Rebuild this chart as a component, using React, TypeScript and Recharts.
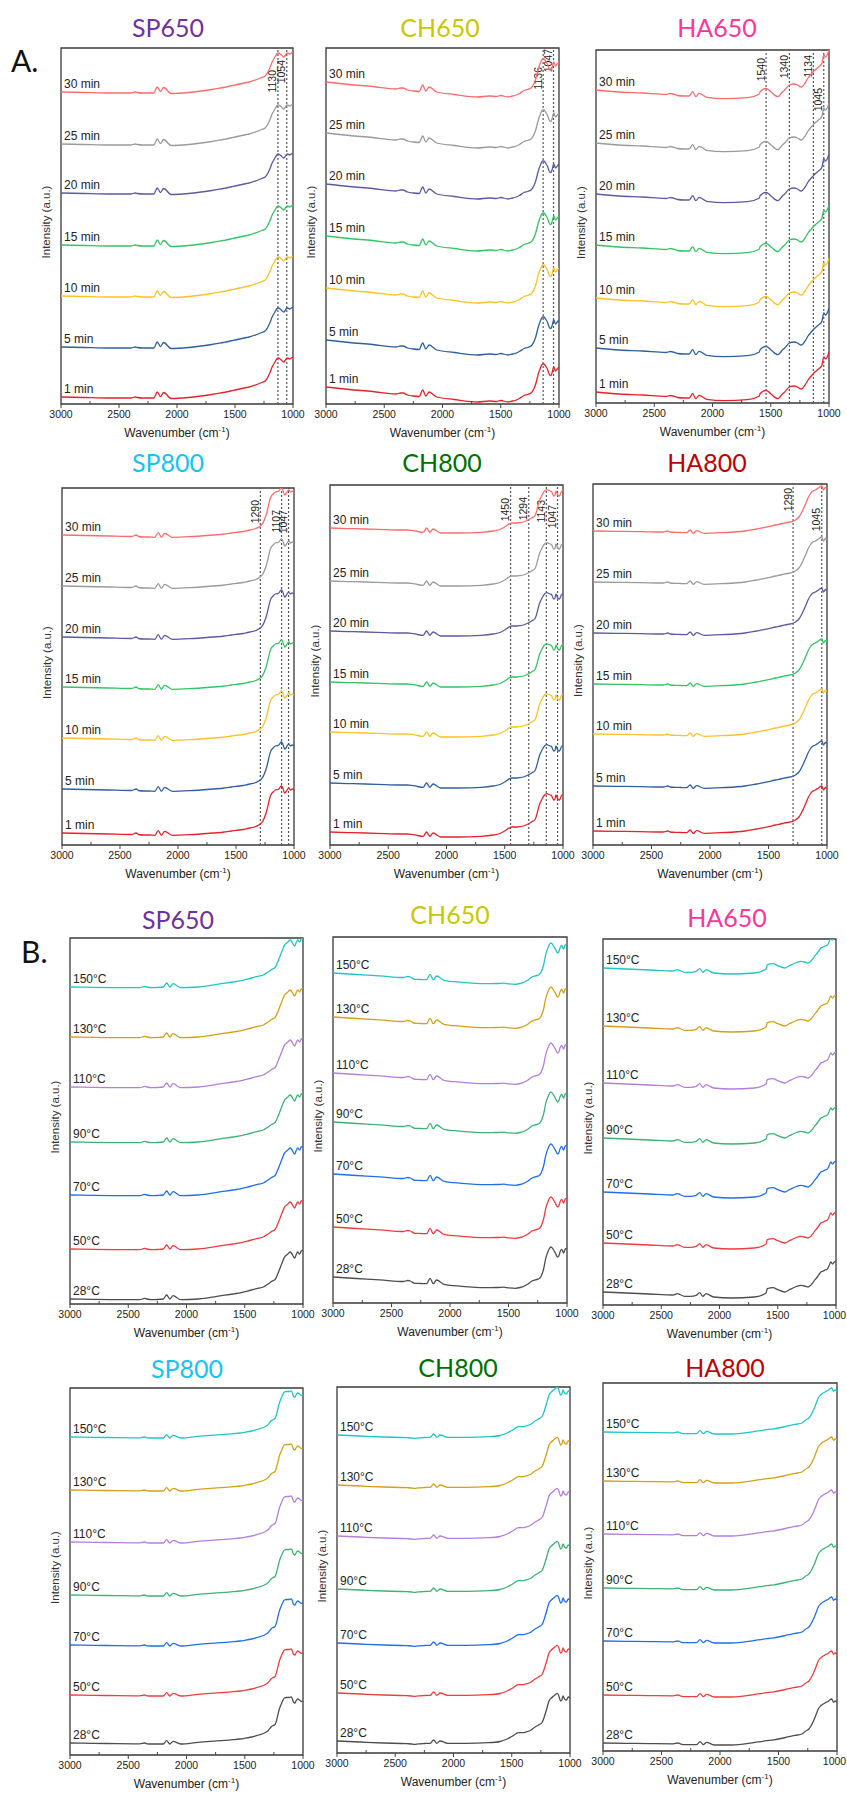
import React from "react";
import {
  LineChart,
  Line,
  XAxis,
  YAxis,
  ReferenceLine,
  ReferenceArea,
  LabelList,
} from "recharts";

// wavenumber grid (cm-1), read from left (3000) to right (1000)
const WAVENUMBERS = [
  3000, 2800, 2600, 2400, 2360, 2340, 2300, 2250, 2200, 2170, 2143, 2115,
  2050, 1900, 1700, 1600, 1590, 1540, 1500, 1440, 1400, 1380, 1340, 1300,
  1270, 1240, 1200, 1180, 1160, 1140, 1130, 1110, 1100, 1080, 1070, 1060,
  1045, 1030, 1015, 1000,
];

const X_TICKS = [3000, 2750, 2500, 2250, 2000, 1750, 1500, 1250, 1000];

const TIME_LABELS = ["1 min", "5 min", "10 min", "15 min", "20 min", "25 min", "30 min"];
const TEMP_LABELS = ["28°C", "50°C", "70°C", "90°C", "110°C", "130°C", "150°C"];

// spectrum shape of each sample (a.u. above the 3000 cm-1 end)
const SHAPE_A_SP650 = [0, -0.5, -1, -1, 0, -0.5, -1, -1, -1, 5, 0.5, 4.5, -1.5, -0.5, 2.5, 4.5, 4.7, 6, 7, 8.5, 9.5, 10, 11.5, 13, 14.5, 16, 24, 30, 34, 38, 39, 38, 37, 35, 36, 38, 39, 38, 39, 40];
const SHAPE_A_CH650 = [0, -2.5, -4.5, -7, -6, -6, -8, -9, -9.5, -3, -9, -5, -10, -12.5, -15, -14, -14, -14.5, -13.5, -15, -14, -13.5, -11.5, -8.5, -7.5, -6, 3, 12, 19, 23, 23, 20, 18, 12, 11.5, 14, 20, 16, 18, 20];
const SHAPE_A_HA650 = [0, -2, -3, -4.5, -3.5, -4, -5.5, -6, -6, -1.7, -6.7, -3.3, -7.3, -8.7, -7.7, -4.3, -1.5, 1.7, -1.7, -6.7, -2, 0, 5, 6, 5, 3, 8, 12, 15, 17.5, 19, 21, 22, 24, 25, 27, 35, 33, 35, 40];
const SHAPE_A_SP800 = [0, -0.5, -1, -1.5, 0, -1.5, -2, -2, -2.3, 2.3, -2.3, 1.7, -2.3, -1.7, 0, 1, 1.2, 2, 2.7, 3.5, 4.5, 5, 6, 8.3, 11.7, 20, 38, 41, 43, 43.5, 44, 47, 46, 40, 41, 43, 45, 43, 44, 43];
const SHAPE_A_CH800 = [0, -0.7, -1.3, -2, -2, -2, -2.3, -3.5, -4.3, 0, -4.3, -1, -5, -5, -4.3, -3, -2.8, -1.5, 1, 5, 5, 5.3, 6, 8, 10, 12.5, 28, 33, 36.7, 38.3, 38, 37, 36.7, 32, 32.5, 37, 33, 32, 36, 37.7];
const SHAPE_A_HA800 = [0, -0.3, -0.6, -1, 0, -1, -1.3, -1.5, -1.7, 1, -2.3, 0.3, -2.3, -1.7, 0, 2, 2.2, 3.3, 4.3, 6, 7, 7.5, 8.5, 9.3, 11, 14, 22.7, 28, 33.5, 37.5, 39, 40.5, 41, 42.5, 43.3, 44.3, 45, 41, 43.5, 42.7];
const SHAPE_B_SP650 = [0, -0.3, -0.6, -0.7, 0.7, 0, -0.7, -0.5, 0, 4, 0, 3.3, -0.7, 0, 3.3, 5, 5.2, 6.2, 7.3, 9, 10.3, 10.8, 12, 15, 17.5, 19.5, 30, 36, 41.7, 44, 45, 47, 46, 42, 41, 44, 47, 45, 48, 49];
const SHAPE_B_CH650 = [0, -1.5, -2.8, -4.5, -3.5, -4, -6.3, -6.5, -6.7, -1.3, -6.7, -3, -7.3, -9.3, -10.7, -10.5, -10.5, -10.2, -10.8, -11.3, -10.5, -9.8, -7.5, -4, -2.8, -1.8, 8, 19.3, 26, 30, 29.5, 26, 24, 20, 21, 25, 27.7, 24, 28, 29];
const SHAPE_B_HA650 = [0, -1, -2, -3, -1.7, -2.5, -4.3, -4.3, -3.3, -0.7, -4.3, -1.7, -5, -6, -5, -1, 3.3, 4.3, 2.3, 0, 2.3, 3.3, 5.5, 6.7, 6, 5, 9, 12.3, 15, 18.5, 20, 21, 21.7, 22.5, 23.5, 26, 30, 28, 30, 31];
const SHAPE_B_SP800 = [0, -0.3, -0.6, -0.8, 0, -0.8, -1, -1, -1, 2.3, -1, 1.7, -1, 0.7, 2.3, 3.3, 3.4, 4, 4.7, 6, 7.3, 8, 9.5, 12.3, 16.5, 18.5, 35, 40.7, 45, 45.5, 45.5, 45.8, 46, 40.5, 40, 42, 44, 43, 41.5, 42];
const SHAPE_B_CH800 = [0, -1, -2, -2.7, -3, -3.3, -2.8, -2.5, -2.3, 1, -2.3, 0, -2.3, -2.3, -1.7, -0.5, -0.2, 2, 4.5, 8.3, 8.3, 9, 10.5, 14, 16, 18.5, 32, 40, 43, 45, 46, 47.7, 46.5, 40, 41, 45, 41.7, 41, 44, 43];
const SHAPE_B_HA800 = [0, -0.3, -0.6, -0.8, 0, -0.8, -1.7, -1.7, -1.7, 1.3, -1.7, 0.7, -2, -2, 0.7, 2.3, 2.5, 3.2, 4, 5.5, 6.7, 7.2, 8, 9, 11.8, 14, 22.3, 28, 34, 37, 38, 39.5, 40.3, 41.3, 42.2, 43.2, 44, 40.7, 42, 40.7];

// stacking offset of each trace, bottom (first) to top (last)
const OFFSETS_A_SP650 = [7, 57, 108, 159, 211, 260, 312];
const OFFSETS_A_CH650 = [17, 64, 116, 168, 220, 271, 322];
const OFFSETS_A_HA650 = [11, 55, 105, 158, 209, 260, 313];
const OFFSETS_A_SP800 = [12, 56, 107, 158, 208, 259, 310];
const OFFSETS_A_CH800 = [13, 62, 113, 163, 214, 264, 317];
const OFFSETS_A_HA800 = [14, 59, 111, 161, 212, 263, 314];
const OFFSETS_B_SP650 = [5, 55, 109, 162, 217, 267, 317];
const OFFSETS_B_CH650 = [26, 76, 129, 181, 230, 286, 330];
const OFFSETS_B_HA650 = [13, 62, 113, 167, 222, 279, 337];
const OFFSETS_B_SP800 = [12, 60, 110, 160, 213, 265, 318];
const OFFSETS_B_CH800 = [12, 60, 110, 164, 217, 268, 318];
const OFFSETS_B_HA800 = [8, 56, 110, 163, 217, 270, 319];

// annotated bands (cm-1)
const MARKERS_A_SP650 = [1130, 1054];
const MARKERS_A_CH650 = [1136, 1047];
const MARKERS_A_HA650 = [1540, 1340, 1134, 1045];
const MARKERS_A_SP800 = [1290, 1107, 1047];
const MARKERS_A_CH800 = [1450, 1294, 1143, 1047];
const MARKERS_A_HA800 = [1290, 1045];

const TIME_COLORS = ["#e8202a", "#2f5f9e", "#ffc125", "#33c463", "#5a5aa0", "#9a9a9a", "#ff6b6b"];
const TEMP_COLORS = ["#4d4d4d", "#f03c3c", "#1e6fe8", "#3cb371", "#b57edc", "#d4a017", "#20c5c5"];

const FONT = "'Liberation Sans', Arial, sans-serif";
const TITLE_FONT = "Lato, 'Open Sans', sans-serif";
const PAGE_W = 847;
const PAD_L = 30;
const PAD_R = 12;
const PAD_T = 6;
const AXIS_H = 38;

const PANELS = [
  { id: "a1", title: "SP650", color: "#7030a0", x: 61, y: 48, w: 232, h: 356, tx: 168, ty: 27, shape: SHAPE_A_SP650, offsets: OFFSETS_A_SP650, markers: MARKERS_A_SP650, tops: [22, 12], kind: "time" },
  { id: "a2", title: "CH650", color: "#c8c800", x: 326, y: 48, w: 233, h: 356, tx: 440, ty: 27, shape: SHAPE_A_CH650, offsets: OFFSETS_A_CH650, markers: MARKERS_A_CH650, tops: [19, 1], kind: "time" },
  { id: "a3", title: "HA650", color: "#ff3399", x: 596, y: 50, w: 233, h: 353, tx: 717, ty: 27, shape: SHAPE_A_HA650, offsets: OFFSETS_A_HA650, markers: MARKERS_A_HA650, tops: [8, 5, 5, 38], kind: "time" },
  { id: "a4", title: "SP800", color: "#14c4f4", x: 62, y: 488, w: 232, h: 357, tx: 168, ty: 462, shape: SHAPE_A_SP800, offsets: OFFSETS_A_SP800, markers: MARKERS_A_SP800, tops: [12, 22, 22], kind: "time" },
  { id: "a5", title: "CH800", color: "#007000", x: 330, y: 485, w: 233, h: 360, tx: 442, ty: 462, shape: SHAPE_A_CH800, offsets: OFFSETS_A_CH800, markers: MARKERS_A_CH800, tops: [13, 12, 15, 20], kind: "time" },
  { id: "a6", title: "HA800", color: "#c00000", x: 593, y: 484, w: 234, h: 361, tx: 707, ty: 462, shape: SHAPE_A_HA800, offsets: OFFSETS_A_HA800, markers: MARKERS_A_HA800, tops: [4, 24], kind: "time" },
  { id: "b1", title: "SP650", color: "#7030a0", x: 70, y: 938, w: 233, h: 366, tx: 178, ty: 919, shape: SHAPE_B_SP650, offsets: OFFSETS_B_SP650, markers: [], tops: [], kind: "temp" },
  { id: "b2", title: "CH650", color: "#c8c800", x: 333, y: 937, w: 234, h: 366, tx: 450, ty: 914, shape: SHAPE_B_CH650, offsets: OFFSETS_B_CH650, markers: [], tops: [], kind: "temp" },
  { id: "b3", title: "HA650", color: "#ff3399", x: 603, y: 939, w: 233, h: 366, tx: 727, ty: 917, shape: SHAPE_B_HA650, offsets: OFFSETS_B_HA650, markers: [], tops: [], kind: "temp" },
  { id: "b4", title: "SP800", color: "#14c4f4", x: 70, y: 1388, w: 233, h: 367, tx: 187, ty: 1368, shape: SHAPE_B_SP800, offsets: OFFSETS_B_SP800, markers: [], tops: [], kind: "temp" },
  { id: "b5", title: "CH800", color: "#007000", x: 337, y: 1387, w: 233, h: 366, tx: 458, ty: 1367, shape: SHAPE_B_CH800, offsets: OFFSETS_B_CH800, markers: [], tops: [], kind: "temp" },
  { id: "b6", title: "HA800", color: "#c00000", x: 603, y: 1383, w: 234, h: 368, tx: 725, ty: 1367, shape: SHAPE_B_HA800, offsets: OFFSETS_B_HA800, markers: [], tops: [], kind: "temp" },
];

const AxisTick = (props: any) => {
  const { x, y, payload, maxX } = props;
  const major = payload.value % 500 === 0;
  // keep the last label inside the page edge
  const half = 11.5;
  const tx = maxX !== undefined && x + half > maxX ? maxX - half : x;
  return (
    <g>
      <line x1={x} x2={x} y1={y} y2={major ? y + 4 : y - 3} stroke="#444" strokeWidth={1} />
      {major && (
        <text x={tx} y={y + 14} textAnchor="middle" fontSize={10.5} fill="#222" fontFamily={FONT}>
          {payload.value}
        </text>
      )}
    </g>
  );
};

const xLabel = (props: any) => {
  const vb = props.viewBox || {};
  const cx = vb.x + vb.width / 2;
  const cy = vb.y + 33;
  return (
    <text x={cx} y={cy} textAnchor="middle" fontSize={12} fill="#222" fontFamily={FONT}>
      Wavenumber (cm<tspan fontSize={8} dy={-5}>-1</tspan>
      <tspan dy={5}>)</tspan>
    </text>
  );
};

// y label drawn from the frame's own box
const yLabel = (props: any) => {
  const vb = props.viewBox || {};
  const cx = vb.x - 15;
  const cy = vb.y + vb.height / 2 - 4;
  return (
    <text
      x={cx}
      y={cy}
      transform={`rotate(-90 ${cx} ${cy})`}
      textAnchor="middle"
      dominantBaseline="central"
      fontSize={11.5}
      fill="#333"
      fontFamily={FONT}
    >
      Intensity (a.u.)
    </text>
  );
};

const markerLabel = (text: string, top: number) => (props: any) => {
  const vb = props.viewBox || {};
  const x = vb.x - 1.5;
  const y = vb.y + top;
  return (
    <text
      transform={`translate(${x},${y}) rotate(-90)`}
      textAnchor="end"
      fontSize={10.5}
      fill="#222"
      fontFamily={FONT}
    >
      {text}
    </text>
  );
};

const curveLabel = (text: string) => (props: any) => {
  if (props.index !== 0) return null;
  const px = props.x ?? props.viewBox?.x;
  const py = props.y ?? props.viewBox?.y;
  return (
    <text x={px + 3} y={py - 4} fontSize={12} fill="#222" fontFamily={FONT}>
      {text}
    </text>
  );
};

const Panel = ({ p }: { p: any }) => {
  const labels = p.kind === "time" ? TIME_LABELS : TEMP_LABELS;
  const colors = p.kind === "time" ? TIME_COLORS : TEMP_COLORS;
  const chartLeft = p.x - PAD_L;

  // stack the traces: shape + offset of each trace
  const rows = WAVENUMBERS.map((wn, i) => {
    const row: any = { wn };
    p.offsets.forEach((o: number, k: number) => {
      row[`s${k}`] = o + p.shape[i];
    });
    return row;
  });

  return (
    <div style={{ position: "absolute", left: chartLeft, top: p.y - PAD_T }}>
      <LineChart
        width={p.w + PAD_L + PAD_R}
        height={p.h + PAD_T + AXIS_H}
        data={rows}
        margin={{ top: PAD_T, right: PAD_R, bottom: 0, left: PAD_L }}
      >
        <XAxis
          dataKey="wn"
          type="number"
          domain={[1000, 3000]}
          reversed
          allowDataOverflow
          ticks={X_TICKS}
          interval={0}
          height={AXIS_H}
          axisLine={false}
          tickLine={false}
          tickSize={0}
          tickMargin={0}
          tick={<AxisTick maxX={PAGE_W - 1 - chartLeft} />}
          label={xLabel}
        />
        <YAxis
          type="number"
          domain={[0, p.h]}
          allowDataOverflow
          width={0}
          tick={false}
          tickLine={false}
          axisLine={false}
        />
        <ReferenceArea
          x1={3000}
          x2={1000}
          y1={0}
          y2={p.h}
          fill="none"
          fillOpacity={0}
          stroke="#3a3a3a"
          strokeWidth={1.3}
          label={yLabel}
        />
        {p.markers.map((m: number, i: number) => (
          <ReferenceLine
            key={`m-${m}`}
            x={m}
            stroke="#555"
            strokeWidth={1.2}
            strokeDasharray="2 2"
            label={markerLabel(String(m), p.tops[i])}
          />
        ))}
        {labels.map((lab, k) => (
          <Line
            key={lab}
            dataKey={`s${k}`}
            type="monotone"
            stroke={colors[k]}
            strokeWidth={1.3}
            dot={false}
            isAnimationActive={false}
          >
            <LabelList dataKey={`s${k}`} content={curveLabel(lab)} />
          </Line>
        ))}
      </LineChart>
    </div>
  );
};

const App = () => {
  return (
    <div
      style={{
        position: "absolute",
        left: 0,
        top: 0,
        width: PAGE_W,
        height: 1793,
        background: "#fff",
        overflow: "hidden",
      }}
    >
      <div style={{ position: "absolute", left: 11, top: 42, fontFamily: TITLE_FONT, fontSize: 30, color: "#111" }}>
        A.
      </div>
      <div style={{ position: "absolute", left: 21, top: 933, fontFamily: TITLE_FONT, fontSize: 30, color: "#111" }}>
        B.
      </div>
      {PANELS.map((p) => (
        <div
          key={`t-${p.id}`}
          style={{
            position: "absolute",
            left: p.tx,
            top: p.ty,
            transform: "translate(-50%, -50%)",
            fontFamily: TITLE_FONT,
            fontSize: 25,
            color: p.color,
            whiteSpace: "nowrap",
            lineHeight: 1,
          }}
        >
          {p.title}
        </div>
      ))}
      {PANELS.map((p) => (
        <Panel key={p.id} p={p} />
      ))}
    </div>
  );
};

export default App;
